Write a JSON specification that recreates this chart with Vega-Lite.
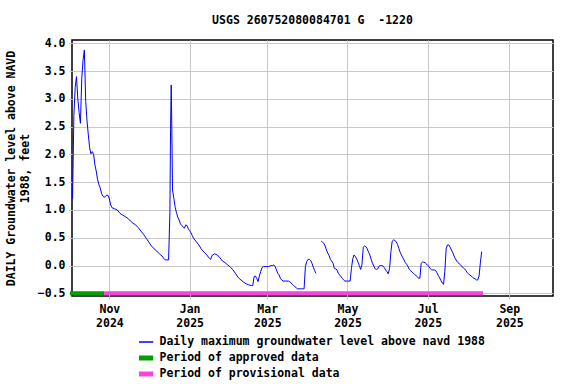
{
  "$schema": "https://vega.github.io/schema/vega-lite/v6.json",
  "width": 481,
  "height": 256,
  "autosize": {"type": "none"},
  "padding": {"left": 72, "top": 40, "right": 23, "bottom": 88},
  "background": "white",
  "title": {"text": "USGS 260752080084701 G\u00a0 -1220", "font": "DejaVu Sans Mono", "fontSize": 11.5, "fontWeight": "bold", "color": "black", "offset": 11},
  "config": {
    "view": {"stroke": "black", "strokeWidth": 1.5},
    "font": "DejaVu Sans Mono",
    "axis": {
      "grid": true, "gridColor": "#c8c8c8", "gridWidth": 1,
      "domain": false,
      "ticks": true, "tickColor": "#c8c8c8", "tickSize": 3,
      "labelFont": "DejaVu Sans Mono", "labelFontWeight": "bold", "labelFontSize": 11.5,
      "labelColor": "black", "labelFlush": false, "labelOverlap": false,
      "titleFont": "DejaVu Sans Mono", "titleFontWeight": "bold", "titleFontSize": 11.5,
      "titleColor": "black"
    },
    "axisY": {"labelOverlap": false, "labelBound": false},
    "legend": {
      "orient": "none",
      "legendX": 67,
      "legendY": 294,
      "direction": "vertical",
      "symbolType": "stroke",
      "symbolSize": 289,
      "rowPadding": 0,
      "clipHeight": 16,
      "labelOffset": 9,
      "labelFont": "DejaVu Sans Mono", "labelFontWeight": "bold", "labelFontSize": 11.5,
      "labelColor": "black", "labelLimit": 0,
      "title": null
    }
  },
  "layer": [
    {
      "data": {"values": [
        {"d": "2024-10-04", "v": 1.20, "s": 1},
        {"d": "2024-10-05", "v": 2.70, "s": 1},
        {"d": "2024-10-06", "v": 3.20, "s": 1},
        {"d": "2024-10-07", "v": 3.40, "s": 1},
        {"d": "2024-10-08", "v": 3.00, "s": 1},
        {"d": "2024-10-09", "v": 2.75, "s": 1},
        {"d": "2024-10-10", "v": 2.56, "s": 1},
        {"d": "2024-10-11", "v": 3.37, "s": 1},
        {"d": "2024-10-12", "v": 3.70, "s": 1},
        {"d": "2024-10-13", "v": 3.88, "s": 1},
        {"d": "2024-10-14", "v": 2.95, "s": 1},
        {"d": "2024-10-15", "v": 2.60, "s": 1},
        {"d": "2024-10-16", "v": 2.35, "s": 1},
        {"d": "2024-10-17", "v": 2.12, "s": 1},
        {"d": "2024-10-18", "v": 2.01, "s": 1},
        {"d": "2024-10-19", "v": 2.05, "s": 1},
        {"d": "2024-10-20", "v": 2.00, "s": 1},
        {"d": "2024-10-21", "v": 1.81, "s": 1},
        {"d": "2024-10-22", "v": 1.70, "s": 1},
        {"d": "2024-10-23", "v": 1.55, "s": 1},
        {"d": "2024-10-24", "v": 1.46, "s": 1},
        {"d": "2024-10-25", "v": 1.40, "s": 1},
        {"d": "2024-10-26", "v": 1.30, "s": 1},
        {"d": "2024-10-27", "v": 1.25, "s": 1},
        {"d": "2024-10-28", "v": 1.23, "s": 1},
        {"d": "2024-10-29", "v": 1.24, "s": 1},
        {"d": "2024-10-30", "v": 1.27, "s": 1},
        {"d": "2024-10-31", "v": 1.26, "s": 1},
        {"d": "2024-11-01", "v": 1.20, "s": 1},
        {"d": "2024-11-02", "v": 1.09, "s": 1},
        {"d": "2024-11-03", "v": 1.04, "s": 1},
        {"d": "2024-11-05", "v": 1.02, "s": 1},
        {"d": "2024-11-07", "v": 1.00, "s": 1},
        {"d": "2024-11-09", "v": 0.94, "s": 1},
        {"d": "2024-11-11", "v": 0.91, "s": 1},
        {"d": "2024-11-13", "v": 0.88, "s": 1},
        {"d": "2024-11-15", "v": 0.85, "s": 1},
        {"d": "2024-11-17", "v": 0.80, "s": 1},
        {"d": "2024-11-19", "v": 0.76, "s": 1},
        {"d": "2024-11-21", "v": 0.73, "s": 1},
        {"d": "2024-11-23", "v": 0.68, "s": 1},
        {"d": "2024-11-25", "v": 0.62, "s": 1},
        {"d": "2024-11-27", "v": 0.56, "s": 1},
        {"d": "2024-11-29", "v": 0.49, "s": 1},
        {"d": "2024-12-01", "v": 0.42, "s": 1},
        {"d": "2024-12-03", "v": 0.35, "s": 1},
        {"d": "2024-12-05", "v": 0.30, "s": 1},
        {"d": "2024-12-07", "v": 0.26, "s": 1},
        {"d": "2024-12-09", "v": 0.21, "s": 1},
        {"d": "2024-12-11", "v": 0.17, "s": 1},
        {"d": "2024-12-13", "v": 0.11, "s": 1},
        {"d": "2024-12-14", "v": 0.10, "s": 1},
        {"d": "2024-12-16", "v": 0.10, "s": 1},
        {"d": "2024-12-17", "v": 0.95, "s": 1},
        {"d": "2024-12-17T12:00:00Z", "v": 2.45, "s": 1},
        {"d": "2024-12-18", "v": 3.25, "s": 1},
        {"d": "2024-12-18T12:00:00Z", "v": 2.40, "s": 1},
        {"d": "2024-12-19", "v": 1.36, "s": 1},
        {"d": "2024-12-20", "v": 1.21, "s": 1},
        {"d": "2024-12-21", "v": 1.05, "s": 1},
        {"d": "2024-12-22", "v": 0.95, "s": 1},
        {"d": "2024-12-23", "v": 0.87, "s": 1},
        {"d": "2024-12-24", "v": 0.82, "s": 1},
        {"d": "2024-12-25", "v": 0.75, "s": 1},
        {"d": "2024-12-26", "v": 0.72, "s": 1},
        {"d": "2024-12-27", "v": 0.70, "s": 1},
        {"d": "2024-12-28", "v": 0.67, "s": 1},
        {"d": "2024-12-29", "v": 0.73, "s": 1},
        {"d": "2024-12-30", "v": 0.72, "s": 1},
        {"d": "2024-12-31", "v": 0.66, "s": 1},
        {"d": "2025-01-01", "v": 0.63, "s": 1},
        {"d": "2025-01-02", "v": 0.59, "s": 1},
        {"d": "2025-01-03", "v": 0.54, "s": 1},
        {"d": "2025-01-04", "v": 0.49, "s": 1},
        {"d": "2025-01-06", "v": 0.43, "s": 1},
        {"d": "2025-01-08", "v": 0.37, "s": 1},
        {"d": "2025-01-10", "v": 0.29, "s": 1},
        {"d": "2025-01-12", "v": 0.24, "s": 1},
        {"d": "2025-01-14", "v": 0.19, "s": 1},
        {"d": "2025-01-16", "v": 0.13, "s": 1},
        {"d": "2025-01-17", "v": 0.11, "s": 1},
        {"d": "2025-01-18", "v": 0.18, "s": 1},
        {"d": "2025-01-20", "v": 0.21, "s": 1},
        {"d": "2025-01-22", "v": 0.19, "s": 1},
        {"d": "2025-01-24", "v": 0.14, "s": 1},
        {"d": "2025-01-26", "v": 0.08, "s": 1},
        {"d": "2025-01-28", "v": 0.05, "s": 1},
        {"d": "2025-01-30", "v": 0.01, "s": 1},
        {"d": "2025-02-01", "v": -0.03, "s": 1},
        {"d": "2025-02-03", "v": -0.08, "s": 1},
        {"d": "2025-02-05", "v": -0.15, "s": 1},
        {"d": "2025-02-07", "v": -0.22, "s": 1},
        {"d": "2025-02-09", "v": -0.26, "s": 1},
        {"d": "2025-02-11", "v": -0.30, "s": 1},
        {"d": "2025-02-13", "v": -0.33, "s": 1},
        {"d": "2025-02-15", "v": -0.35, "s": 1},
        {"d": "2025-02-17", "v": -0.36, "s": 1},
        {"d": "2025-02-18", "v": -0.36, "s": 1},
        {"d": "2025-02-19", "v": -0.20, "s": 1},
        {"d": "2025-02-20", "v": -0.19, "s": 1},
        {"d": "2025-02-21", "v": -0.23, "s": 1},
        {"d": "2025-02-22", "v": -0.29, "s": 1},
        {"d": "2025-02-23", "v": -0.19, "s": 1},
        {"d": "2025-02-24", "v": -0.11, "s": 1},
        {"d": "2025-02-25", "v": -0.04, "s": 1},
        {"d": "2025-02-26", "v": -0.02, "s": 1},
        {"d": "2025-02-28", "v": -0.02, "s": 1},
        {"d": "2025-03-02", "v": -0.02, "s": 1},
        {"d": "2025-03-04", "v": 0.00, "s": 1},
        {"d": "2025-03-05", "v": 0.00, "s": 1},
        {"d": "2025-03-06", "v": 0.01, "s": 1},
        {"d": "2025-03-07", "v": -0.02, "s": 1},
        {"d": "2025-03-08", "v": -0.08, "s": 1},
        {"d": "2025-03-09", "v": -0.14, "s": 1},
        {"d": "2025-03-10", "v": -0.17, "s": 1},
        {"d": "2025-03-11", "v": -0.23, "s": 1},
        {"d": "2025-03-12", "v": -0.26, "s": 1},
        {"d": "2025-03-13", "v": -0.28, "s": 1},
        {"d": "2025-03-15", "v": -0.28, "s": 1},
        {"d": "2025-03-17", "v": -0.28, "s": 1},
        {"d": "2025-03-18", "v": -0.29, "s": 1},
        {"d": "2025-03-19", "v": -0.31, "s": 1},
        {"d": "2025-03-20", "v": -0.34, "s": 1},
        {"d": "2025-03-21", "v": -0.36, "s": 1},
        {"d": "2025-03-22", "v": -0.38, "s": 1},
        {"d": "2025-03-23", "v": -0.40, "s": 1},
        {"d": "2025-03-24", "v": -0.42, "s": 1},
        {"d": "2025-03-26", "v": -0.42, "s": 1},
        {"d": "2025-03-28", "v": -0.42, "s": 1},
        {"d": "2025-03-29", "v": -0.42, "s": 1},
        {"d": "2025-03-30", "v": -0.02, "s": 1},
        {"d": "2025-03-31", "v": 0.07, "s": 1},
        {"d": "2025-04-01", "v": 0.11, "s": 1},
        {"d": "2025-04-02", "v": 0.11, "s": 1},
        {"d": "2025-04-03", "v": 0.09, "s": 1},
        {"d": "2025-04-04", "v": 0.04, "s": 1},
        {"d": "2025-04-05", "v": -0.03, "s": 1},
        {"d": "2025-04-06", "v": -0.09, "s": 1},
        {"d": "2025-04-07", "v": -0.14, "s": 1},
        {"d": "2025-04-11", "v": 0.44, "s": 2},
        {"d": "2025-04-12", "v": 0.42, "s": 2},
        {"d": "2025-04-13", "v": 0.40, "s": 2},
        {"d": "2025-04-14", "v": 0.35, "s": 2},
        {"d": "2025-04-15", "v": 0.28, "s": 2},
        {"d": "2025-04-16", "v": 0.22, "s": 2},
        {"d": "2025-04-17", "v": 0.18, "s": 2},
        {"d": "2025-04-18", "v": 0.11, "s": 2},
        {"d": "2025-04-19", "v": 0.08, "s": 2},
        {"d": "2025-04-20", "v": 0.04, "s": 2},
        {"d": "2025-04-21", "v": -0.05, "s": 2},
        {"d": "2025-04-22", "v": -0.06, "s": 2},
        {"d": "2025-04-23", "v": -0.08, "s": 2},
        {"d": "2025-04-24", "v": -0.14, "s": 2},
        {"d": "2025-04-25", "v": -0.17, "s": 2},
        {"d": "2025-04-26", "v": -0.20, "s": 2},
        {"d": "2025-04-27", "v": -0.23, "s": 2},
        {"d": "2025-04-28", "v": -0.26, "s": 2},
        {"d": "2025-04-29", "v": -0.28, "s": 2},
        {"d": "2025-05-01", "v": -0.28, "s": 2},
        {"d": "2025-05-03", "v": -0.28, "s": 2},
        {"d": "2025-05-04", "v": -0.05, "s": 2},
        {"d": "2025-05-05", "v": 0.12, "s": 2},
        {"d": "2025-05-06", "v": 0.19, "s": 2},
        {"d": "2025-05-07", "v": 0.16, "s": 2},
        {"d": "2025-05-08", "v": 0.12, "s": 2},
        {"d": "2025-05-09", "v": 0.06, "s": 2},
        {"d": "2025-05-10", "v": 0.00, "s": 2},
        {"d": "2025-05-11", "v": -0.07, "s": 2},
        {"d": "2025-05-12", "v": 0.02, "s": 2},
        {"d": "2025-05-13", "v": 0.33, "s": 2},
        {"d": "2025-05-14", "v": 0.35, "s": 2},
        {"d": "2025-05-15", "v": 0.34, "s": 2},
        {"d": "2025-05-16", "v": 0.30, "s": 2},
        {"d": "2025-05-17", "v": 0.24, "s": 2},
        {"d": "2025-05-18", "v": 0.19, "s": 2},
        {"d": "2025-05-19", "v": 0.11, "s": 2},
        {"d": "2025-05-20", "v": 0.04, "s": 2},
        {"d": "2025-05-21", "v": -0.01, "s": 2},
        {"d": "2025-05-22", "v": -0.06, "s": 2},
        {"d": "2025-05-23", "v": -0.07, "s": 2},
        {"d": "2025-05-24", "v": -0.06, "s": 2},
        {"d": "2025-05-25", "v": -0.01, "s": 2},
        {"d": "2025-05-26", "v": 0.00, "s": 2},
        {"d": "2025-05-27", "v": 0.00, "s": 2},
        {"d": "2025-05-28", "v": -0.01, "s": 2},
        {"d": "2025-05-29", "v": -0.04, "s": 2},
        {"d": "2025-05-30", "v": -0.08, "s": 2},
        {"d": "2025-05-31", "v": -0.11, "s": 2},
        {"d": "2025-06-01", "v": -0.15, "s": 2},
        {"d": "2025-06-02", "v": -0.05, "s": 2},
        {"d": "2025-06-03", "v": 0.25, "s": 2},
        {"d": "2025-06-04", "v": 0.44, "s": 2},
        {"d": "2025-06-05", "v": 0.46, "s": 2},
        {"d": "2025-06-06", "v": 0.45, "s": 2},
        {"d": "2025-06-07", "v": 0.43, "s": 2},
        {"d": "2025-06-08", "v": 0.38, "s": 2},
        {"d": "2025-06-09", "v": 0.31, "s": 2},
        {"d": "2025-06-10", "v": 0.24, "s": 2},
        {"d": "2025-06-11", "v": 0.19, "s": 2},
        {"d": "2025-06-12", "v": 0.14, "s": 2},
        {"d": "2025-06-13", "v": 0.10, "s": 2},
        {"d": "2025-06-14", "v": 0.05, "s": 2},
        {"d": "2025-06-15", "v": 0.02, "s": 2},
        {"d": "2025-06-16", "v": -0.02, "s": 2},
        {"d": "2025-06-17", "v": -0.07, "s": 2},
        {"d": "2025-06-18", "v": -0.09, "s": 2},
        {"d": "2025-06-19", "v": -0.12, "s": 2},
        {"d": "2025-06-20", "v": -0.14, "s": 2},
        {"d": "2025-06-21", "v": -0.16, "s": 2},
        {"d": "2025-06-22", "v": -0.18, "s": 2},
        {"d": "2025-06-23", "v": -0.20, "s": 2},
        {"d": "2025-06-24", "v": -0.23, "s": 2},
        {"d": "2025-06-25", "v": -0.23, "s": 2},
        {"d": "2025-06-26", "v": 0.04, "s": 2},
        {"d": "2025-06-27", "v": 0.06, "s": 2},
        {"d": "2025-06-28", "v": 0.06, "s": 2},
        {"d": "2025-06-29", "v": 0.05, "s": 2},
        {"d": "2025-06-30", "v": 0.03, "s": 2},
        {"d": "2025-07-01", "v": 0.00, "s": 2},
        {"d": "2025-07-02", "v": -0.02, "s": 2},
        {"d": "2025-07-03", "v": -0.06, "s": 2},
        {"d": "2025-07-04", "v": -0.08, "s": 2},
        {"d": "2025-07-05", "v": -0.08, "s": 2},
        {"d": "2025-07-06", "v": -0.08, "s": 2},
        {"d": "2025-07-07", "v": -0.09, "s": 2},
        {"d": "2025-07-08", "v": -0.13, "s": 2},
        {"d": "2025-07-09", "v": -0.18, "s": 2},
        {"d": "2025-07-10", "v": -0.22, "s": 2},
        {"d": "2025-07-11", "v": -0.27, "s": 2},
        {"d": "2025-07-12", "v": -0.31, "s": 2},
        {"d": "2025-07-13", "v": -0.34, "s": 2},
        {"d": "2025-07-14", "v": -0.10, "s": 2},
        {"d": "2025-07-15", "v": 0.30, "s": 2},
        {"d": "2025-07-16", "v": 0.37, "s": 2},
        {"d": "2025-07-17", "v": 0.37, "s": 2},
        {"d": "2025-07-18", "v": 0.33, "s": 2},
        {"d": "2025-07-19", "v": 0.28, "s": 2},
        {"d": "2025-07-20", "v": 0.23, "s": 2},
        {"d": "2025-07-21", "v": 0.17, "s": 2},
        {"d": "2025-07-22", "v": 0.12, "s": 2},
        {"d": "2025-07-23", "v": 0.08, "s": 2},
        {"d": "2025-07-24", "v": 0.05, "s": 2},
        {"d": "2025-07-25", "v": 0.03, "s": 2},
        {"d": "2025-07-26", "v": 0.01, "s": 2},
        {"d": "2025-07-27", "v": -0.02, "s": 2},
        {"d": "2025-07-28", "v": -0.04, "s": 2},
        {"d": "2025-07-29", "v": -0.06, "s": 2},
        {"d": "2025-07-30", "v": -0.09, "s": 2},
        {"d": "2025-07-31", "v": -0.13, "s": 2},
        {"d": "2025-08-01", "v": -0.15, "s": 2},
        {"d": "2025-08-02", "v": -0.17, "s": 2},
        {"d": "2025-08-03", "v": -0.19, "s": 2},
        {"d": "2025-08-04", "v": -0.21, "s": 2},
        {"d": "2025-08-05", "v": -0.23, "s": 2},
        {"d": "2025-08-06", "v": -0.24, "s": 2},
        {"d": "2025-08-07", "v": -0.26, "s": 2},
        {"d": "2025-08-08", "v": -0.26, "s": 2},
        {"d": "2025-08-09", "v": -0.19, "s": 2},
        {"d": "2025-08-10", "v": 0.05, "s": 2},
        {"d": "2025-08-11", "v": 0.25, "s": 2}
      ]},
      "mark": {"type": "line", "strokeWidth": 1},
      "encoding": {
        "x": {
          "field": "d", "type": "temporal",
          "scale": {"type": "utc", "domain": [
            {"year": 2024, "month": 10, "date": 3, "hours": 14, "utc": true},
            {"year": 2025, "month": 10, "date": 4, "hours": 5, "utc": true}
          ]},
          "axis": {
            "title": null,
            "tickCount": {"interval": "month", "step": 2},
            "labelExpr": "[utcFormat(datum.value, '%b'), utcFormat(datum.value, '%Y')]",
            "labelPadding": 4, "labelLineHeight": 14, "labelOverlap": false
          }
        },
        "y": {
          "field": "v", "type": "quantitative",
          "scale": {"domain": [-0.549, 4.059], "nice": false, "zero": false},
          "axis": {
            "values": [-0.5, 0, 0.5, 1, 1.5, 2, 2.5, 3, 3.5, 4],
            "format": ".1f",
            "title": ["DAILY Groundwater level above NAVD", "1988, feet"],
            "titleLineHeight": 14, "titlePadding": 7,
            "labelPadding": 4, "labelOverlap": false
          }
        },
        "detail": {"field": "s", "type": "nominal"},
        "color": {
          "datum": "Daily maximum groundwater level above navd 1988",
          "type": "nominal",
          "scale": {
            "domain": ["Daily maximum groundwater level above navd 1988", "Period of approved data", "Period of provisional data"],
            "range": ["#0000ff", "#00a000", "#f545dc"]
          },
          "legend": {
            "title": null,
            "encode": {
              "symbols": {"update": {"strokeWidth": {"signal": "datum.label == 'Daily maximum groundwater level above navd 1988' ? 1.5 : 5"}}}
            }
          }
        }
      }
    },
    {
      "data": {"values": [
        {"p": "Period of approved data", "a": "2024-10-02", "b": "2024-10-28", "y": -0.5},
        {"p": "Period of provisional data", "a": "2024-10-28", "b": "2025-08-12", "y": -0.5}
      ]},
      "mark": {"type": "rule", "strokeWidth": 4, "clip": false},
      "encoding": {
        "x": {"field": "a", "type": "temporal"},
        "x2": {"field": "b"},
        "y": {
          "field": "y", "type": "quantitative",
          "axis": {
            "values": [-0.5, 0, 0.5, 1, 1.5, 2, 2.5, 3, 3.5, 4],
            "format": ".1f",
            "title": ["DAILY Groundwater level above NAVD", "1988, feet"],
            "titleLineHeight": 14, "titlePadding": 7,
            "labelPadding": 4, "labelOverlap": false
          }
        },
        "color": {"field": "p", "type": "nominal", "legend": {"title": null}}
      }
    }
  ]
}
